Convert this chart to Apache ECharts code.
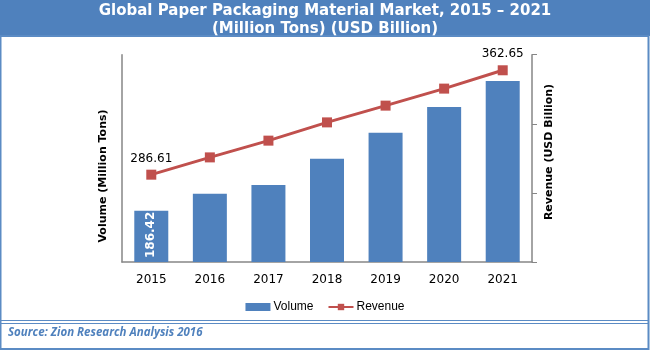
<!DOCTYPE html>
<html><head><meta charset="utf-8">
<script src="https://cdn.jsdelivr.net/npm/echarts@6/dist/echarts.min.js"></script>
<style>html,body{margin:0;padding:0;background:#fff}#c{width:650px;height:350px}</style>
</head><body><div id="c"></div>
<script>
var years = ['2015','2016','2017','2018','2019','2020','2021'];
var volume = [186.42, 191.8, 194.6, 203.0, 211.3, 219.6, 227.9];
var revenue = [286.61, 299.2, 311.4, 324.7, 336.9, 349.3, 362.65];
var revTicks = [223, 273.3, 323.7, 374];

var chart = echarts.init(document.getElementById('c'));
chart.setOption({
  animation: false,
  title: {
    text: 'Global Paper Packaging Material Market, 2015 \u2013 2021\n(Million Tons) (USD Billion)',
    left: 'center', top: 2, padding: 0,
    textStyle: {color: '#fff', fontFamily: 'DejaVu Sans', fontWeight: 'bold', fontSize: 15, lineHeight: 18}
  },
  graphic: [
    {type: 'rect', z: -10, shape: {x: 0, y: 0, width: 650, height: 36}, style: {fill: '#4F81BD'}},
    {type: 'rect', z: -10, shape: {x: 0.5, y: 36, width: 648, height: 313}, style: {fill: 'none', stroke: '#5B8BC4', lineWidth: 2}},
    {type: 'line', shape: {x1: 1, y1: 320.5, x2: 649, y2: 320.5}, style: {stroke: '#5B8BC4', lineWidth: 1}},
    {type: 'line', shape: {x1: 1, y1: 323.5, x2: 649, y2: 323.5}, style: {stroke: '#5B8BC4', lineWidth: 1}},
    {type: 'text', left: 8, top: 327, style: {text: 'Source: Zion Research Analysis 2016', fill: '#4F81BD', font: 'italic bold 11.5px "Open Sans"'}},
    {type: 'text', x: 103, y: 176, rotation: Math.PI/2, style: {text: 'Volume (Million Tons)', fill: '#000', font: 'bold 11px "DejaVu Sans"', align: 'center', verticalAlign: 'middle'}},
    {type: 'text', x: 549, y: 152, rotation: Math.PI/2, style: {text: 'Revenue (USD Billion)', fill: '#000', font: 'bold 11px "DejaVu Sans"', align: 'center', verticalAlign: 'middle'}}
  ],
  legend: {
    top: 301, left: 'center', itemWidth: 25, itemHeight: 8, itemGap: 14, padding: 0,
    textStyle: {fontFamily: 'Liberation Sans', fontSize: 12, color: '#000', padding: [0, 0, 0, -2]},
    data: [{name: 'Volume', icon: 'rect'}, {name: 'Revenue'}]
  },
  grid: {left: 122, right: 118, top: 54.7, bottom: 88},
  xAxis: {
    type: 'category', data: years,
    axisLine: {lineStyle: {color: '#868686', width: 1.5}},
    axisTick: {show: false},
    axisLabel: {color: '#000', fontFamily: 'DejaVu Sans', fontSize: 12, margin: 12}
  },
  yAxis: [
    {type: 'value', min: 170, max: 236.3, position: 'left',
     axisLine: {show: true, lineStyle: {color: '#868686', width: 1.5}},
     axisTick: {show: false}, axisLabel: {show: false}, splitLine: {show: false}},
    {type: 'value', min: 223, max: 374, position: 'right',
     axisLine: {show: true, lineStyle: {color: '#868686', width: 1.5}},
     axisTick: {show: true, length: 5, customValues: revTicks, lineStyle: {color: '#868686'}},
     axisLabel: {show: false}, splitLine: {show: false}}
  ],
  series: [
    {name: 'Volume', type: 'bar', yAxisIndex: 0, data: volume, barWidth: 34,
     itemStyle: {color: '#4F81BD'},
     label: {show: true, position: 'insideBottom', rotate: 90, align: 'left', verticalAlign: 'middle', distance: 4,
       color: '#fff', fontWeight: 'bold', fontFamily: 'DejaVu Sans', fontSize: 12,
       formatter: function(p){ return p.dataIndex === 0 ? p.value : ''; }}},
    {name: 'Revenue', type: 'line', yAxisIndex: 1, data: revenue,
     symbol: 'rect', symbolSize: 10, lineStyle: {color: '#C0504D', width: 3},
     itemStyle: {color: '#C0504D'},
     label: {show: true, position: 'top', distance: 5, color: '#000', fontFamily: 'DejaVu Sans', fontSize: 12,
       formatter: function(p){ return (p.dataIndex === 0 || p.dataIndex === 6) ? p.value.toFixed(2) : ''; }}}
  ]
});
</script></body></html>
